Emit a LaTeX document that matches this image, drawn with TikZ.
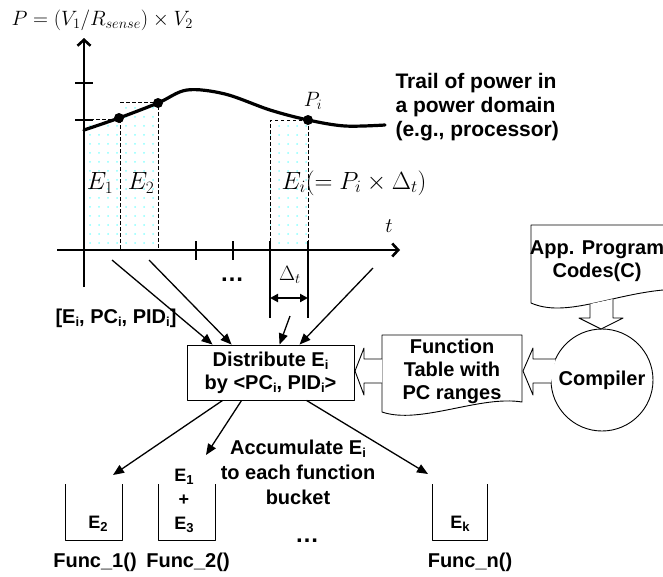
\documentclass[tikz,border=0pt]{standalone}
\usepackage{fontspec}
\setsansfont{Liberation Sans}
\usetikzlibrary{arrows.meta,patterns.meta}
\newcommand{\lsub}[1]{\raisebox{-0.35ex}{\fontsize{13}{13}\selectfont #1}}

\begin{document}
\begin{tikzpicture}[
  x=1pt,y=-1pt,line join=round,
  font=\sffamily\bfseries\fontsize{20}{23}\selectfont,
  axis/.style={line width=2.6pt,-{Straight Barb[length=6pt,width=13pt]}},
  tickmark/.style={line width=2.4pt},
  trail/.style={line width=3.2pt,line cap=round},
  sample/.style={dashed,line width=0.9pt,dash pattern=on 3.5pt off 2.5pt},
  energy/.style={pattern={Dots[distance=9pt,radius=1pt]},pattern color=cyan!45},
  flow/.style={line width=1.3pt,-{Triangle[length=11pt,width=9pt]}},
  hollow/.style={line width=0.9pt,fill=white},
  outline/.style={line width=0.9pt},
  mathlbl/.style={font=\fontsize{24}{28}\selectfont},
  smallmath/.style={font=\fontsize{21}{24}\selectfont},
  binlbl/.style={font=\sffamily\bfseries\fontsize{18}{24}\selectfont},
]
  \useasboundingbox (0,0) rectangle (663,576);
  \fill[white] (0,0) rectangle (663,576);

  % Energy slices under the power trail.
  \fill[energy] (84,119) rectangle (120,250);
  \fill[energy] (120,102) rectangle (158,250);
  \fill[energy] (270,120) rectangle (308,250);
  \draw[sample] (84,119) -- (120,119) -- (120,250);
  \draw[sample] (120,102) -- (158,102) -- (158,250);
  \draw[sample] (308,120) -- (270,120) -- (270,250);
  \draw[sample] (308,120) -- (308,250);

  % Axes, ticks and the sampling interval.
  \draw[axis] (84,287) -- (84,38);
  \draw[axis] (57,250) -- (400,250);
  \foreach \y in {83,120} \draw[tickmark] (75,\y) -- (93,\y);
  \foreach \x in {196,233,270,308} \draw[tickmark] (\x,241) -- (\x,260);
  \coordinate (dl) at (270,298);
  \coordinate (dr) at (308,298);
  \draw[line width=1.5pt] (270,250) -- (270,318) (308,250) -- (308,318);
  \draw[line width=2pt,{Triangle[length=8pt,width=8pt]}-{Triangle[length=8pt,width=8pt]}] (dl) -- (dr);

  % Power trail with sample points.
  \draw[trail] plot[smooth,tension=0.55] coordinates {(84,130) (119,118) (158,103) (187,90) (225,94) (270,110) (308,120) (345,126) (385,125)};
  \coordinate (pw1) at (119,118);
  \coordinate (pw2) at (158,103);
  \coordinate (pwi) at (308,120);
  \foreach \p in {pw1,pw2,pwi} \fill (\p) circle (5pt);

  % Graph labels.
  \node[font=\fontsize{20}{24}\selectfont,anchor=west] (formula) at (8,20) {$P=\bigl(V_1/R_{sense}\bigr)\times V_2$};
  \node[mathlbl] (e1) at (100,183) {$E_1$};
  \node[mathlbl] (e2) at (141,183) {$E_2$};
  \node[mathlbl,anchor=west] (ei) at (278,183) {$E_i(=P_i\times\Delta_t)$};
  \node[smallmath] (pilbl) at (313,101) {$P_i$};
  \node[smallmath] (tlbl) at (389,226) {$t$};
  \node[smallmath] (dlbl) at (290,275) {$\Delta_t$};
  \node[font=\sffamily\bfseries\fontsize{24}{24}\selectfont] (dots1) at (232,280) {\ldots};
  \node[font=\sffamily\bfseries\fontsize{21}{24}\selectfont,anchor=west,align=left] (trail) at (392,107) {Trail of power in\\a power domain\\(e.g., processor)};
  \node (tuple) at (116,318) {[E\lsub{i}, PC\lsub{i}, PID\lsub{i}]};

  % Distribution box and the tool chain.
  \node[draw,outline,minimum width=167pt,minimum height=55pt,align=center,inner sep=0] (dist) at (270.5,372.5) {Distribute E\lsub{i}\\by <PC\lsub{i}, PID\lsub{i}>};
  \draw[outline] (382,412) -- (382,335) -- (522,335) -- (522,402) .. controls (480,395) and (420,425) .. cycle;
  \node[align=center] (ftab) at (452,371) {Function\\Table with\\PC ranges};
  \node[draw,outline,circle,minimum size=102pt,inner sep=0] (comp) at (602,380) {Compiler};
  \draw[outline] (663,225) -- (531,225) -- (531,303) .. controls (565,318) and (610,295) .. (663,290);
  \node[align=center] (app) at (597,261) {App. Program\\Codes(C)};

  % Hollow arrows.
  \draw[hollow] (590,304) -- (590,318) -- (579,318) -- (601,329) -- (623,318) -- (613,318) -- (613,299);
  \draw[hollow] (555.5,359) -- (533,359) -- (533,348) -- (523,371) -- (533,395) -- (533,383) -- (551,383);
  \draw[hollow] (382,359) -- (364,359) -- (364,348) -- (355,371) -- (364,395) -- (364,383) -- (382,383);

  % Samples into the distribution box.
  \coordinate (s1) at (112,260);
  \coordinate (s2) at (149,260);
  \coordinate (s3) at (290,316);
  \coordinate (s4) at (373,268);
  \foreach \s/\d in {s1/26,s2/45,s3/93,s4/113}
    \draw[flow] (\s) -- ([xshift=\d pt]dist.north west);

  % Buckets of the functions.
  \foreach \l/\r in {65/122,158/215,432/487}
    \draw[outline] (\l,484) -- (\l,540) -- (\r,540) -- (\r,484);
  \coordinate (b1) at (113,475);
  \coordinate (b2) at (206,455);
  \coordinate (bn) at (428,474);
  \draw[flow] ([xshift=36pt]dist.south west) -- (b1);
  \draw[flow] ([xshift=55pt]dist.south west) -- (b2);
  \draw[flow] ([xshift=120pt]dist.south west) -- (bn);
  \node[font=\sffamily\bfseries\fontsize{20}{25}\selectfont,align=center] (acc) at (298,472) {Accumulate E\lsub{i}\\to each function\\bucket};
  \node[binlbl] (b1e) at (98,524) {E\lsub{2}};
  \node[binlbl,align=center] (b2e) at (184,501) {E\lsub{1}\\+\\E\lsub{3}};
  \node[binlbl] (bne) at (460,524) {E\lsub{k}};
  \node (f1) at (95,562) {Func\_1()};
  \node (f2) at (188,562) {Func\_2()};
  \node (fn) at (470,562) {Func\_n()};
  \node[font=\sffamily\bfseries\fontsize{24}{24}\selectfont] (dots2) at (307,541) {\ldots};
\end{tikzpicture}
\end{document}
